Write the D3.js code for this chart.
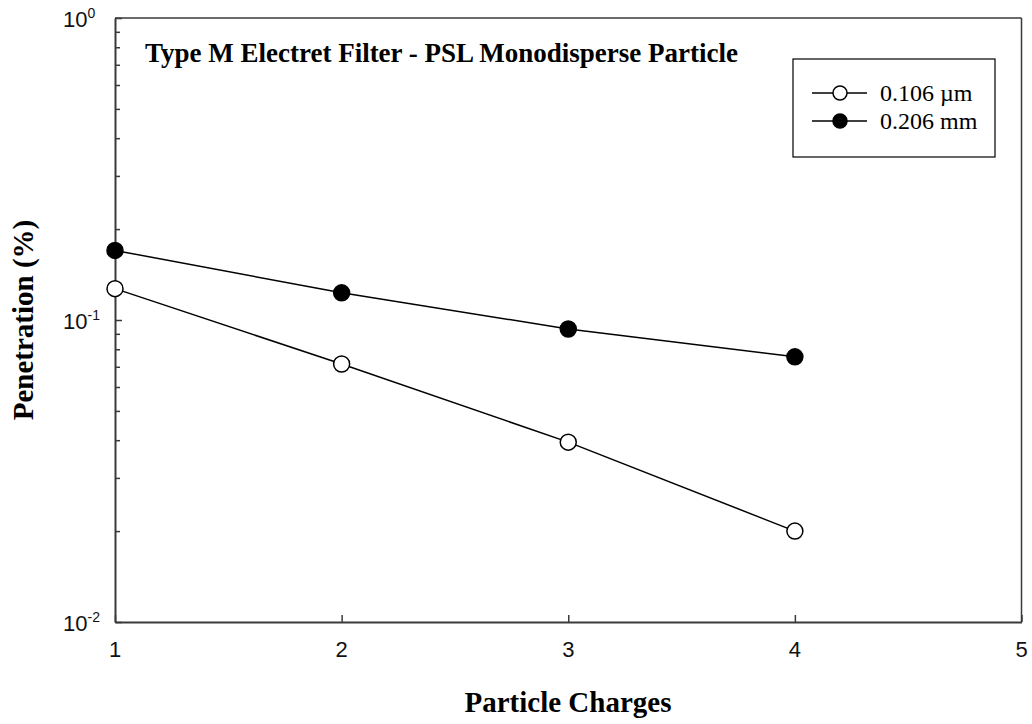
<!DOCTYPE html>
<html>
<head>
<meta charset="utf-8">
<script src="https://cdn.jsdelivr.net/npm/d3@7"></script>
<style>
  body { margin: 0; background: #fff; }
  svg { display: block; }
</style>
</head>
<body>
<svg id="chart" width="1032" height="724"></svg>
<script>
const charges = [1, 2, 3, 4];
const pen106 = [0.127, 0.0715, 0.0394, 0.0200];
const pen206 = [0.170, 0.123, 0.0934, 0.0755];
const seriesNames = ["0.106 \u00b5m", "0.206 mm"];
const xTicks = [1, 2, 3, 4, 5];
const yMajor = [1e-2, 1e-1, 1];
const yMajorExp = ["-2", "-1", "0"];
const titleText = "Type M Electret Filter - PSL Monodisperse Particle";
const xTitle = "Particle Charges";
const yTitle = "Penetration (%)";

const W = 1032, H = 724;
const L = 115, R = 1021.5, T = 18, B = 622;
const svg = d3.select("#chart");

const x = d3.scaleLinear().domain([1, 5]).range([L, R]);
const y = d3.scaleLog().domain([1e-2, 1]).range([B, T]);

const axisColor = "#3a3a3a";

// minor ticks
const yMinor = [];
for (let e = -2; e < 0; e++) for (let k = 2; k <= 9; k++) yMinor.push(k * Math.pow(10, e));

const gY = svg.append("g").attr("transform", `translate(${L},0)`)
  .call(d3.axisLeft(y).tickValues(yMajor).tickSize(-7).tickSizeOuter(0).tickFormat(""));
const gYm = svg.append("g").attr("transform", `translate(${L},0)`)
  .call(d3.axisLeft(y).tickValues(yMinor).tickSize(-5).tickSizeOuter(0).tickFormat(""));
const gX = svg.append("g").attr("transform", `translate(0,${B})`)
  .call(d3.axisBottom(x).tickValues(xTicks).tickSize(-7).tickSizeOuter(0).tickFormat(""));
[gY, gYm, gX].forEach(g => {
  g.selectAll("path.domain").attr("stroke", axisColor).attr("stroke-width", 2);
  g.selectAll("line").attr("stroke", axisColor).attr("stroke-width", 1.5);
});
gYm.select("path.domain").remove();

// frame (top and right)
svg.append("line").attr("x1", L).attr("x2", R).attr("y1", T).attr("y2", T)
  .attr("stroke", axisColor).attr("stroke-width", 1.5);
svg.append("line").attr("x1", R).attr("x2", R).attr("y1", T).attr("y2", B)
  .attr("stroke", axisColor).attr("stroke-width", 1.5);

// y tick labels
const yl = svg.append("g").attr("font-family", "Liberation Sans, Arial, sans-serif").attr("fill", "#111");
yMajor.forEach((v, i) => {
  const t = yl.append("text").attr("x", L - 52).attr("y", y(v) + 9).attr("font-size", 22);
  t.append("tspan").text("10");
  t.append("tspan").attr("dy", -9).attr("font-size", 14).text(yMajorExp[i]);
});
// x tick labels
svg.append("g").selectAll("text").data(xTicks).join("text")
  .attr("x", d => x(d)).attr("y", B + 35)
  .attr("text-anchor", "middle")
  .attr("font-family", "Liberation Sans, Arial, sans-serif")
  .attr("font-size", 22).attr("fill", "#111")
  .text(d => d);

// lines & markers
const line = d3.line().x(d => x(d[0])).y(d => y(d[1]));
const series = [
  { vals: pen106, fill: "#fff" },
  { vals: pen206, fill: "#000" }
];
series.forEach(s => {
  const pts = charges.map((c, i) => [c, s.vals[i]]);
  svg.append("path").datum(pts).attr("d", line)
    .attr("fill", "none").attr("stroke", "#000").attr("stroke-width", 1.5);
  svg.append("g").selectAll("circle").data(pts).join("circle")
    .attr("cx", d => x(d[0])).attr("cy", d => y(d[1])).attr("r", 8)
    .attr("fill", s.fill).attr("stroke", "#000").attr("stroke-width", 1.5);
});

// title
svg.append("text").attr("x", 145).attr("y", 62)
  .attr("font-family", "Liberation Serif, Times New Roman, serif")
  .attr("font-weight", "bold").attr("font-size", 27).attr("fill", "#000")
  .attr("textLength", 593).attr("lengthAdjust", "spacingAndGlyphs")
  .text(titleText);

// legend
const lg = svg.append("g");
lg.append("rect").attr("x", 793).attr("y", 59).attr("width", 202).attr("height", 98)
  .attr("fill", "#fff").attr("stroke", "#000").attr("stroke-width", 1.2);
series.forEach((s, i) => {
  const yy = 93 + i * 28;
  lg.append("line").attr("x1", 812).attr("x2", 867).attr("y1", yy).attr("y2", yy)
    .attr("stroke", "#000").attr("stroke-width", 1.5);
  lg.append("circle").attr("cx", 840).attr("cy", yy).attr("r", 7)
    .attr("fill", s.fill).attr("stroke", "#000").attr("stroke-width", 1.5);
  lg.append("text").attr("x", 880).attr("y", yy + 8)
    .attr("font-family", "Liberation Serif, Times New Roman, serif")
    .attr("font-size", 24).attr("fill", "#000").text(seriesNames[i]);
});

// axis titles
svg.append("text").attr("x", 568).attr("y", 712)
  .attr("text-anchor", "middle")
  .attr("font-family", "Liberation Serif, Times New Roman, serif")
  .attr("font-weight", "bold").attr("font-size", 29).attr("fill", "#000")
  .text(xTitle);
svg.append("text")
  .attr("transform", `translate(33,320) rotate(-90)`)
  .attr("text-anchor", "middle")
  .attr("font-family", "Liberation Serif, Times New Roman, serif")
  .attr("font-weight", "bold").attr("font-size", 29).attr("fill", "#000")
  .text(yTitle);
</script>
</body>
</html>
